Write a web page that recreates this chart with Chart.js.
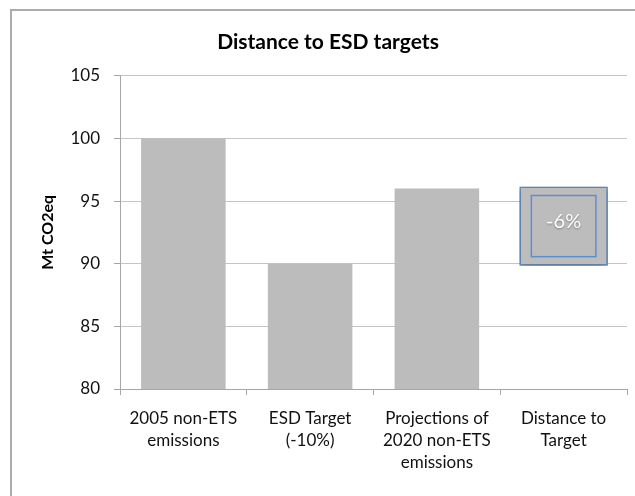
<!DOCTYPE html>
<html>
<head>
<meta charset="utf-8">
<script src="https://cdn.jsdelivr.net/npm/chart.js@4/dist/chart.umd.min.js"></script>
<style>
  html, body { margin: 0; padding: 0; background: #fff; overflow: hidden; }
  #wrap { position: relative; width: 635px; height: 496px; }
  #frame { position: absolute; left: 10px; top: 9px; width: 640px; height: 500px;
           border: 2px solid #acacac; pointer-events: none; }
  canvas { position: absolute; left: 0; top: 0; }
</style>
</head>
<body>
<div id="wrap">
  <canvas id="chart" width="635" height="496"></canvas>
  <div id="frame"></div>
</div>
<script>
// Categories (multi-line labels) and values in Mt CO2eq
const categories = [
  ["2005 non-ETS", "emissions"],
  ["ESD Target", "(-10%)"],
  ["Projections of", "2020 non-ETS", "emissions"],
  ["Distance to", "Target"]
];
const emissions = [100, 90, 96, null];
const distanceRange = [null, null, null, [90, 96]];
const yTicks = [80, 85, 90, 95, 100, 105];

const baseYear = emissions[0];
const gapPct = Math.round((distanceRange[3][0] - distanceRange[3][1]) / baseYear * 100);
const gapLabel = gapPct + '%';

const FONT = 'Lato, "Open Sans", sans-serif';
const BLUE = '#5a8fcf';

// Soft shadow under the distance box
const shadowPlugin = {
  id: 'distShadow',
  beforeDatasetDraw(chart, args) {
    if (args.index === 1) {
      const ctx = chart.ctx;
      ctx.save();
      ctx.shadowColor = 'rgba(0,0,0,0.35)';
      ctx.shadowBlur = 6;
      ctx.shadowOffsetX = 0;
      ctx.shadowOffsetY = 2;
    }
  },
  afterDatasetDraw(chart, args) {
    if (args.index === 1) chart.ctx.restore();
  }
};

// Inner frame and percentage text on the distance box
const distanceLabelPlugin = {
  id: 'distLabel',
  afterDatasetsDraw(chart) {
    const meta = chart.getDatasetMeta(1);
    const ctx = chart.ctx;
    meta.data.forEach((bar, i) => {
      if (!distanceRange[i]) return;
      const top = Math.min(bar.y, bar.base);
      const bottom = Math.max(bar.y, bar.base);
      const left = bar.x - bar.width / 2;
      const right = bar.x + bar.width / 2;
      ctx.save();
      ctx.strokeStyle = BLUE;
      ctx.lineWidth = 1.5;
      ctx.strokeRect(left + 10, top + 7, right - left - 20, bottom - top - 14);
      ctx.fillStyle = '#ffffff';
      ctx.font = '20px ' + FONT;
      ctx.textAlign = 'center';
      ctx.textBaseline = 'middle';
      ctx.shadowColor = 'rgba(0,0,0,0.35)';
      ctx.shadowBlur = 2;
      ctx.shadowOffsetY = 1;
      ctx.fillText(gapLabel, bar.x, (top + bottom) / 2 - 5);
      ctx.restore();
    });
  }
};

new Chart(document.getElementById('chart'), {
  type: 'bar',
  data: {
    labels: categories,
    datasets: [
      {
        data: emissions,
        backgroundColor: '#bcbcbc',
        borderWidth: 0,
        grouped: false,
        barPercentage: 0.667,
        categoryPercentage: 1
      },
      {
        data: distanceRange,
        backgroundColor: '#bcbcbc',
        borderColor: BLUE,
        borderWidth: 1.5,
        borderSkipped: false,
        inflateAmount: 2,
        grouped: false,
        barPercentage: 0.667,
        categoryPercentage: 1
      }
    ]
  },
  options: {
    responsive: false,
    animation: false,
    layout: { padding: { left: 29, right: 8, top: 0, bottom: 0 } },
    plugins: {
      legend: { display: false },
      tooltip: { enabled: false },
      title: {
        display: true,
        text: 'Distance to ESD targets',
        color: '#000',
        font: { family: FONT, size: 21, weight: 'bold', lineHeight: 1.2 },
        padding: { top: 30, bottom: 20.5 }
      }
    },
    scales: {
      x: {
        offset: true,
        grid: {
          display: true,
          offset: true,
          drawOnChartArea: false,
          drawTicks: true,
          tickLength: 6,
          color: '#a6a6a6'
        },
        border: { display: true, color: '#a6a6a6', width: 1 },
        ticks: {
          color: '#111',
          font: { family: FONT, size: 17, lineHeight: 1.3 },
          padding: 12,
          maxRotation: 0,
          autoSkip: false
        },
        afterFit(scale) { scale.height = 107; }
      },
      y: {
        min: yTicks[0],
        max: yTicks[yTicks.length - 1],
        afterBuildTicks(scale) { scale.ticks = yTicks.map(v => ({ value: v })); },
        grid: {
          color: '#c4c4c4',
          tickLength: 6,
          tickColor: '#a6a6a6'
        },
        border: { display: true, color: '#a6a6a6', width: 1 },
        ticks: {
          color: '#111',
          font: { family: FONT, size: 17 },
          padding: 14
        },
        title: {
          display: true,
          text: 'Mt CO2eq',
          color: '#000',
          font: { family: FONT, size: 16, weight: 'bold', lineHeight: 1.2 },
          padding: { top: 9, bottom: 0 }
        },
        afterFit(scale) { scale.width = 91; }
      }
    }
  },
  plugins: [shadowPlugin, distanceLabelPlugin]
});
</script>
</body>
</html>
